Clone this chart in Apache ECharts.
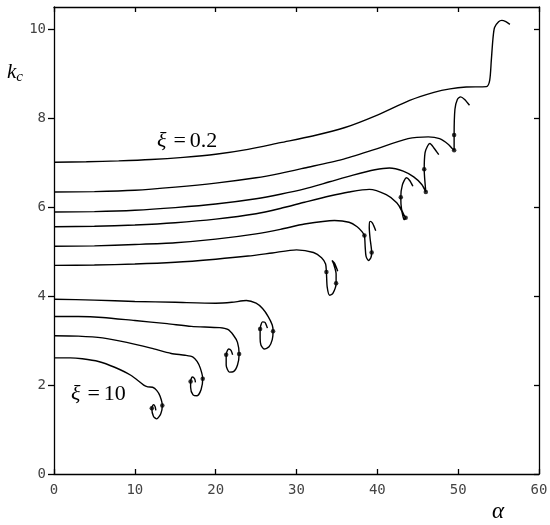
<!DOCTYPE html>
<html>
<head>
<meta charset="utf-8">
<script src="https://cdn.jsdelivr.net/npm/echarts@6/dist/echarts.min.js"></script>
<style>html,body{margin:0;padding:0;background:#fff;}#chart{width:550px;height:525px;}</style>
</head>
<body>
<div id="chart"></div>
<script>
// x ticks (alpha) and y ticks (k_c)
var xTicks = [0, 10, 20, 30, 40, 50, 60];
var yTicks = [0, 2, 4, 6, 8, 10];

// curves, from xi = 0.2 (top) to xi = 10 (bottom): [alpha, k_c]
var c1 = [[0,7.01],[4,7.02],[8,7.04],[12,7.07],[16,7.12],[20,7.19],[24,7.3],[28,7.45],[32,7.6],[36,7.79],[40,8.07],[44,8.4],[47,8.58],[49,8.66],[51,8.70],[53.5,8.71],[53.9,8.85],[54.1,9.3],[54.3,9.78],[54.5,10.04],[55,10.17],[55.4,10.2],[55.9,10.17],[56.4,10.11]];
var c2 = [[0,6.34],[5,6.35],[10,6.38],[15,6.45],[20,6.54],[25,6.66],[28,6.76],[31,6.88],[35.6,7.07],[39.7,7.30],[43.8,7.54],[46.3,7.58],[47.7,7.54],[48.8,7.41],[49.3,7.31],[49.5,7.28],[49.5,7.62],[49.6,8.2],[49.9,8.42],[50.3,8.48],[50.8,8.42],[51.4,8.29]];
var c3 = [[0,5.89],[5,5.9],[10,5.93],[15,5.99],[20,6.07],[25,6.19],[28,6.29],[31,6.41],[34.1,6.57],[37,6.72],[39.7,6.84],[41.5,6.88],[43.2,6.81],[44.5,6.68],[45.5,6.51],[46.0,6.34],[45.8,6.85],[45.9,7.22],[46.2,7.37],[46.5,7.43],[47.0,7.33],[47.6,7.18]];
var c4 = [[0,5.56],[5,5.57],[10,5.6],[15,5.65],[20,5.73],[25,5.85],[28,5.97],[31,6.11],[34.1,6.25],[36.5,6.34],[39,6.40],[41.1,6.28],[42.4,6.1],[43.0,5.92],[43.3,5.72],[43.5,5.76],[43.3,5.82],[43.0,5.95],[42.9,6.22],[43.1,6.5],[43.6,6.66],[44.0,6.6],[44.4,6.47]];
var c5 = [[0,5.12],[5,5.13],[10,5.16],[15,5.2],[20,5.28],[25,5.4],[28,5.5],[31,5.62],[34.7,5.70],[36.5,5.66],[37.5,5.56],[38.1,5.45],[38.4,5.36],[38.5,5.1],[38.6,4.9],[38.9,4.8],[39.2,4.86],[39.3,4.98],[39.1,5.3],[39.0,5.55],[39.1,5.68],[39.4,5.64],[39.8,5.47]];
var c6 = [[0,4.69],[5,4.70],[10,4.72],[15,4.76],[20,4.83],[24,4.9],[27,4.97],[30,5.04],[32.1,4.98],[33.1,4.86],[33.6,4.72],[33.7,4.54],[33.8,4.2],[34.1,4.02],[34.5,4.06],[34.9,4.29],[34.9,4.5],[34.6,4.72],[34.4,4.80],[34.7,4.74],[35.1,4.56]];
var c7 = [[0,3.93],[5,3.91],[10,3.88],[15,3.86],[20,3.84],[22,3.86],[23.8,3.90],[25,3.84],[25.8,3.72],[26.5,3.54],[27,3.35],[27.1,3.21],[27.0,3.02],[26.6,2.86],[26.0,2.81],[25.6,2.9],[25.5,3.05],[25.5,3.26],[25.8,3.42],[26.1,3.41],[26.4,3.28]];
var c8 = [[0,3.54],[3,3.54],[6,3.52],[10,3.45],[14,3.38],[17,3.32],[20.5,3.29],[21.5,3.25],[22.2,3.12],[22.7,2.96],[22.9,2.70],[22.7,2.45],[22.2,2.30],[21.7,2.29],[21.3,2.45],[21.3,2.68],[21.6,2.81],[21.9,2.78],[22.1,2.68]];
var c9 = [[0,3.11],[3,3.10],[6,3.06],[9,2.96],[12,2.83],[14.5,2.71],[16.2,2.67],[17.2,2.63],[17.7,2.53],[18.1,2.38],[18.4,2.14],[18.2,1.9],[17.7,1.76],[17.2,1.78],[16.9,1.95],[16.9,2.08],[17.1,2.18],[17.4,2.14],[17.5,2.06]];
var c10 = [[0,2.61],[2,2.61],[3.5,2.59],[5.5,2.53],[7.5,2.40],[9.5,2.22],[11.1,2.0],[11.6,1.96],[12.2,1.95],[12.7,1.88],[13.1,1.76],[13.4,1.54],[13.2,1.35],[12.7,1.24],[12.3,1.30],[12.1,1.48],[12.3,1.56],[12.5,1.52],[12.6,1.43]];
var curves = [c1, c2, c3, c4, c5, c6, c7, c8, c9, c10];

// marked points on the curves
var dots = [[49.5,7.28],[49.5,7.62],[46.0,6.34],[45.8,6.85],[43.5,5.76],[42.9,6.22],[38.4,5.36],[39.3,4.98],[33.7,4.54],[34.9,4.29],[27.1,3.21],[25.5,3.26],[22.9,2.70],[21.3,2.68],[18.4,2.14],[16.9,2.08],[13.4,1.54],[12.1,1.48]];

var chart = echarts.init(document.getElementById('chart'));
var axisLineStyle = {color: '#000', width: 1.3};
var tickFont = {color: '#444', fontFamily: 'DejaVu Sans Mono', fontSize: 14};

var series = curves.map(function (c) {
  return {type: 'line', data: c, symbol: 'none', smooth: 0.25,
    lineStyle: {color: '#000', width: 1.4}, silent: true, animation: false};
});
series.push({type: 'scatter', data: dots, symbol: 'circle', symbolSize: 4.5,
  itemStyle: {color: '#000'}, silent: true, animation: false});

chart.setOption({
  animation: false,
  grid: {left: 54, right: 11, top: 7, bottom: 51, outerBoundsMode: 'none'},
  xAxis: [
    {type: 'value', min: 0, max: 60, interval: 10, position: 'bottom',
      axisLine: {show: true, onZero: false, lineStyle: axisLineStyle},
      axisTick: {show: true, inside: true, length: 5, lineStyle: axisLineStyle, customValues: xTicks},
      axisLabel: Object.assign({margin: 9, customValues: xTicks}, tickFont),
      splitLine: {show: false}},
    {type: 'value', min: 0, max: 60, interval: 10, position: 'top',
      axisLine: {show: true, onZero: false, lineStyle: axisLineStyle},
      axisTick: {show: true, inside: true, length: 5, lineStyle: axisLineStyle, customValues: xTicks},
      axisLabel: {show: false}, splitLine: {show: false}}
  ],
  yAxis: [
    {type: 'value', min: 0, max: 10.5, interval: 2, position: 'left',
      axisLine: {show: true, onZero: false, lineStyle: axisLineStyle},
      axisTick: {show: true, inside: false, length: 6, lineStyle: axisLineStyle, customValues: yTicks},
      axisLabel: Object.assign({margin: 8, customValues: yTicks}, tickFont),
      splitLine: {show: false}},
    {type: 'value', min: 0, max: 10.5, interval: 2, position: 'right',
      axisLine: {show: true, onZero: false, lineStyle: axisLineStyle},
      axisTick: {show: true, inside: true, length: 5, lineStyle: axisLineStyle, customValues: yTicks},
      axisLabel: {show: false}, splitLine: {show: false}}
  ],
  graphic: [
    {type: 'text', left: 157, top: 130, silent: true,
      style: {text: '{i|ξ}{e|=}{n|0.2}', fill: '#000',
        rich: {
          i: {fontFamily: 'Liberation Serif', fontStyle: 'italic', fontSize: 22, padding: [0, 7, 0, 0]},
          e: {fontFamily: 'Liberation Serif', fontSize: 22, padding: [0, 4, 0, 0]},
          n: {fontFamily: 'Liberation Serif', fontSize: 22}
        }}},
    {type: 'text', left: 71, top: 383, silent: true,
      style: {text: '{i|ξ}{e|=}{n|10}', fill: '#000',
        rich: {
          i: {fontFamily: 'Liberation Serif', fontStyle: 'italic', fontSize: 22, padding: [0, 7, 0, 0]},
          e: {fontFamily: 'Liberation Serif', fontSize: 22, padding: [0, 4, 0, 0]},
          n: {fontFamily: 'Liberation Serif', fontSize: 22}
        }}},
    {type: 'text', left: 7, top: 62, silent: true,
      style: {text: '{k|k}{s|c}', fill: '#000',
        rich: {
          k: {fontFamily: 'Liberation Serif', fontStyle: 'italic', fontSize: 21, verticalAlign: 'top'},
          s: {fontFamily: 'Liberation Serif', fontStyle: 'italic', fontSize: 15, padding: [8, 0, 0, 0]}
        }}},
    {type: 'text', left: 492, top: 500, silent: true,
      style: {text: 'α', fill: '#000', fontFamily: 'Liberation Serif', fontStyle: 'italic', fontSize: 23}}
  ],
  series: series
});
</script>
</body>
</html>
